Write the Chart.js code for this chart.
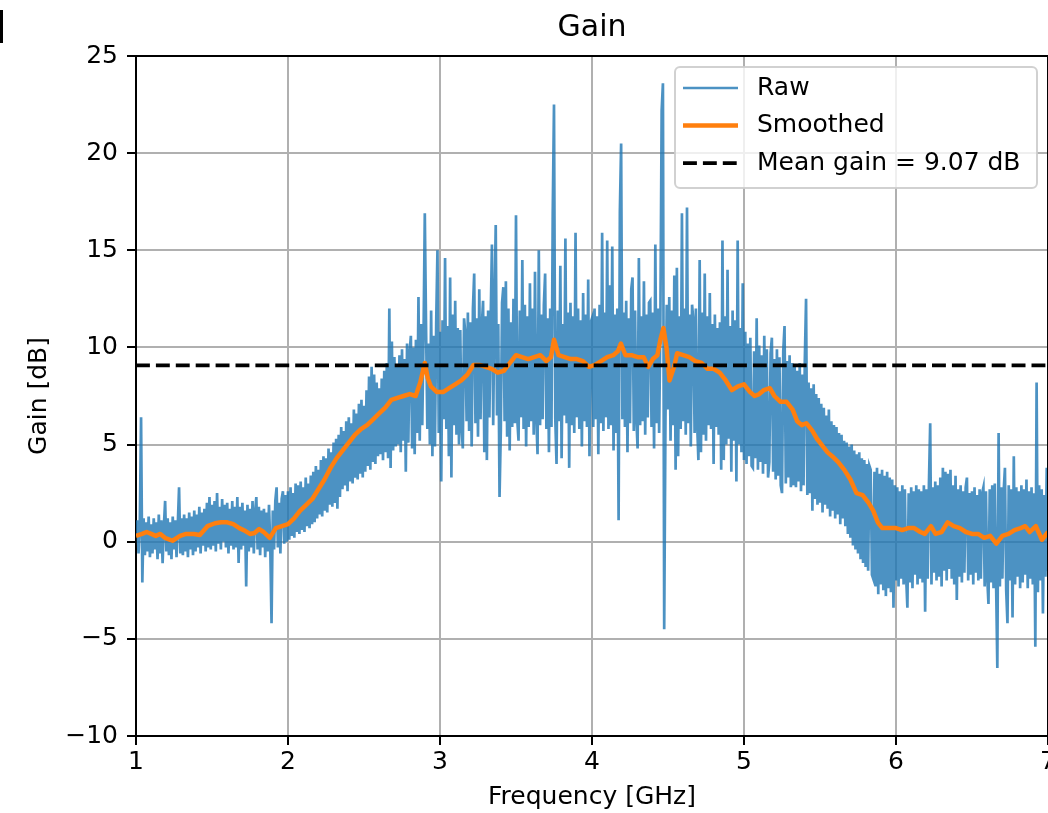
<!DOCTYPE html>
<html><head><meta charset="utf-8">
<script src="https://cdn.jsdelivr.net/npm/chart.js@4.4.1/dist/chart.umd.min.js"></script>
<style>
html,body{margin:0;padding:0;background:#fff;overflow:hidden;}
#wrap{position:relative;width:1048px;height:813px;overflow:hidden;background:#fff;}
#c{position:absolute;left:0;top:0;}
#mark{position:absolute;left:0;top:10px;width:3px;height:33px;background:#000;}
</style></head><body>
<div id="wrap"><canvas id="c" width="1060" height="813" style="width:1060px;height:813px"></canvas><div id="mark"></div></div>
<script>
// ---- data ----
const rawStartGHz = 1.0;
const rawStepGHz = 1 / 120;
const rawGain = [
 0.3, 1.1, -0.6, 0.9, 6.4, -2.1, 1.2, -0.7, 1.0, -0.5, 1.3, -0.8, 0.9, -0.6, 1.2, -0.4, 1.0, -0.9, 1.4, -0.6,
 1.1, -1.1, 0.8, 2.1, -0.5, 1.2, -0.7, 1.0, -0.9, 1.3, -0.4, 1.1, -0.8, 0.9, 2.8, -0.6, 1.2, -0.7, 1.4, -0.5,
 1.2, -0.8, 1.5, -0.4, 1.3, -0.7, 1.6, -0.5, 1.4, -0.3, 1.8, -0.6, 1.5, -0.2, 1.7, -0.5, 2.0, -0.3, 2.3, -0.4,
 1.9, -0.2, 2.1, -0.5, 2.5, -0.1, 1.8, -0.4, 2.2, 0.0, 1.9, -0.3, 2.0, -0.6, 1.7, -0.2, 2.1, -0.4, 1.8, -0.3,
 2.3, -1.1, 1.8, -0.4, 2.0, -0.2, 1.6, -2.3, 1.9, -0.5, 1.7, -0.3, 2.1, -0.6, 1.5, 2.3, -0.4, 1.8, -0.7, 1.6,
 -0.3, 1.7, -0.8, 1.5, -0.5, 1.9, -0.2, -4.2, 1.6, -0.4, 2.1, 2.8, -0.3, 2.0, -0.6, 2.2, 2.6, -0.1, 2.4, 0.0,
 2.6, 0.1, 2.8, 0.3, 2.5, 0.2, 3.0, 0.5, 2.9, 0.4, 3.1, 0.6, 2.8, 0.5, 3.3, 0.8, 3.0, 0.7, 3.4, 0.9,
 3.6, 1.0, 3.9, 1.2, 3.7, 1.4, 4.2, 1.3, 4.4, 1.6, 4.3, 1.5, 4.8, 1.9, 4.6, 1.8, 5.1, 2.0, 5.3, 1.7,
 5.5, 2.3, 5.9, 2.7, 5.7, 2.9, 6.2, 2.6, 6.4, 3.1, 6.1, 3.0, 6.8, 3.3, 6.6, 3.2, 7.1, 3.5, 7.3, 3.3,
 7.0, 3.6, 7.8, 3.9, 8.5, 3.7, 9.0, 4.1, 8.6, 4.0, 8.2, 4.4, 7.9, 4.5, 8.4, 4.2, 8.8, 4.6, 9.2, 4.3,
 12.0, 3.8, 10.3, 4.7, 9.5, 4.9, 9.1, 5.0, 9.6, 4.6, 9.9, 5.2, 9.4, 3.6, 10.2, 5.1, 9.7, 10.6, 4.8, 10.0,
 4.5, 10.4, 5.6, 12.6, 5.2, 11.2, 6.0, 10.5, 16.9, 11.0, 5.8, 10.2, 5.0, 11.9, 4.4, 10.6, 4.9, 11.3, 15.0, 5.6,
 10.8, 3.1, 11.4, 6.3, 14.6, 5.8, 11.1, 4.4, 13.6, 3.3, 11.7, 6.0, 12.4, 5.5, 11.0, 5.0, 10.9, 5.9, 4.8, 11.5,
 10.7, 6.2, 11.8, 5.7, 11.3, 4.9, 12.0, 13.8, 6.1, 11.5, 5.4, 13.0, 6.3, 11.1, 12.4, 4.6, 11.6, 4.2, 11.9, 6.4,
 11.4, 15.3, 6.0, 12.1, 16.3, 6.5, 11.2, 2.3, 5.7, 12.3, 13.1, 6.2, 13.4, 5.4, 12.0, 4.7, 11.3, 5.9, 12.5, 6.1,
 16.8, 6.3, 5.2, 11.9, 6.4, 14.5, 5.8, 12.2, 4.9, 11.6, 5.9, 13.3, 6.2, 12.0, 5.5, 13.9, 6.5, 4.5, 15.0, 6.0,
 11.7, 6.3, 12.2, 13.8, 5.8, 11.5, 4.6, 12.0, 5.9, 16.9, 22.5, 6.4, 4.0, 11.9, 6.2, 14.2, 4.3, 11.2, 6.5, 15.6,
 6.1, 11.8, 3.8, 12.3, 6.0, 11.6, 5.6, 15.9, 6.4, 12.0, 5.8, 11.4, 4.9, 12.8, 6.2, 11.7, 5.9, 13.5, 4.4, 11.3,
 11.5, 5.9, 12.0, 6.3, 11.6, 4.5, 12.2, 6.1, 15.9, 5.7, 11.8, 6.4, 15.5, 5.8, 13.2, 6.0, 15.2, 4.7, 11.7, 5.6,
 12.0, 1.1, 17.0, 20.5, 6.3, 11.8, 5.9, 12.4, 4.6, 11.5, 6.1, 13.0, 13.6, 5.7, 11.9, 6.4, 4.8, 14.6, 6.0, 11.6,
 6.2, 13.4, 5.5, 11.7, 6.4, 12.3, 12.4, 5.9, 11.8, 4.8, 15.3, 6.1, 12.0, 5.6, 11.5, 22.2, 23.6, -4.5, 6.3, 12.2,
 6.8, 12.6, 5.2, 11.9, 6.0, 13.7, 3.7, 14.1, 4.4, 11.6, 5.8, 16.9, 6.2, 12.0, 5.5, 17.2, 6.1, 11.7, 4.9, 12.2,
 11.4, 5.6, 12.0, 6.1, 4.2, 14.5, 4.6, 11.8, 5.5, 13.8, 5.2, 11.6, 6.0, 12.8, 5.8, 11.2, 4.0, 11.7, 5.9, 11.0,
 5.5, 11.3, 3.7, 15.5, 4.2, 11.6, 5.0, 14.0, 5.3, 11.1, 3.6, 11.9, 5.2, 11.4, 3.1, 15.5, 5.0, 11.0, 4.6, 13.3,
 4.2, 10.8, 4.0, 10.2, 4.4, 10.5, 3.9, 3.8, 9.8, 4.3, 11.5, 3.7, 10.1, 4.1, 9.6, 3.5, 10.6, 4.0, 9.9, 3.3,
 4.1, 9.7, 10.5, 3.6, 9.4, 3.2, 9.9, 3.4, 9.5, 2.9, 2.5, 9.8, 11.1, 3.0, 9.3, 3.3, 9.6, 2.8, 9.2, 2.9,
 9.0, 2.8, 8.8, 3.1, 9.2, 2.6, 8.6, 2.9, 9.3, 12.5, 2.4, 8.2, 2.5, 7.9, 1.6, 8.1, 2.2, 7.6, 1.9, 7.4,
 2.0, 7.1, 1.5, 6.9, 1.9, 6.5, 1.7, 6.8, 1.3, 6.2, 1.6, 6.0, 1.2, 5.9, 1.4, 5.6, 0.9, 5.5, 1.2, 5.2,
 0.8, 5.1, 0.4, 4.9, 0.2, 5.0, -0.2, 4.7, -0.4, 4.5, -0.6, 4.6, -0.9, 4.3, -1.1, 4.2, -1.3, 4.0, -1.5, 3.9,
 3.7, -1.7, -1.9, 3.6, -2.3, 3.8, -2.7, 3.5, -2.2, 3.7, -2.5, 3.4, -2.8, 3.6, -2.4, 3.3, -2.6, 3.2, -3.4, 2.9,
 -2.0, 2.8, -2.3, 2.6, -1.9, 2.9, -2.2, 2.7, -1.8, -3.4, 2.5, -2.1, 2.8, -2.4, 2.6, -1.7, 2.9, -2.2, 2.7, -1.9,
 2.6, -2.1, 2.9, -3.6, 2.7, -1.9, 3.0, 6.1, -2.2, 2.8, -1.6, 3.1, -2.0, 2.9, -1.8, 3.3, -2.3, 3.8, -1.5, 3.6,
 -2.0, 3.5, -1.4, 3.7, -1.9, 2.9, -2.2, 3.4, -3.0, 2.7, -1.8, 2.9, -2.1, 2.6, -1.6, 2.8, 3.3, -2.0, 2.5, -1.7,
 2.6, -2.2, 2.8, -1.6, 2.4, -2.0, 2.7, -1.9, 2.5, 2.8, -2.3, 2.6, -1.8, -3.2, 2.7, -2.1, 2.9, -2.4, 3.0, -2.0,
 -6.5, 5.6, -2.3, 2.8, -1.9, 2.6, 3.8, -2.5, -4.2, 2.9, -2.0, 2.7, -3.9, 4.4, -2.2, 2.8, -1.8, 2.6, -2.4, 2.9,
 -2.1, 2.7, -1.7, 3.2, -2.4, 2.6, -1.9, 2.8, -2.2, 2.5, -5.4, 8.2, -2.6, 2.9, -2.0, 2.7, -3.7, 2.4, -1.8, 3.8,
 -1.5
];
const smoothFreq = [
 1.00, 1.04, 1.07, 1.10, 1.13, 1.16, 1.19, 1.24, 1.29, 1.33, 1.38, 1.42, 1.47, 1.52, 1.56, 1.60,
 1.64, 1.68, 1.72, 1.75, 1.78, 1.81, 1.84, 1.88, 1.92, 1.96, 2.00, 2.04, 2.08, 2.12, 2.16, 2.20,
 2.24, 2.28, 2.32, 2.36, 2.40, 2.44, 2.48, 2.52, 2.56, 2.60, 2.64, 2.68, 2.72, 2.76, 2.80, 2.84,
 2.87, 2.90, 2.92, 2.94, 2.98, 3.02, 3.06, 3.10, 3.14, 3.18, 3.22, 3.26, 3.30, 3.34, 3.38, 3.42,
 3.46, 3.50, 3.54, 3.58, 3.62, 3.66, 3.70, 3.73, 3.75, 3.78, 3.82, 3.86, 3.90, 3.94, 3.98, 4.02,
 4.06, 4.10, 4.14, 4.17, 4.19, 4.22, 4.26, 4.30, 4.34, 4.37, 4.40, 4.43, 4.45, 4.47, 4.49, 4.51,
 4.54, 4.56, 4.60, 4.64, 4.68, 4.72, 4.76, 4.80, 4.84, 4.88, 4.92, 4.96, 5.00, 5.04, 5.07, 5.10,
 5.13, 5.17, 5.20, 5.24, 5.28, 5.32, 5.35, 5.38, 5.41, 5.45, 5.48, 5.52, 5.55, 5.58, 5.62, 5.66,
 5.70, 5.74, 5.78, 5.82, 5.85, 5.88, 5.91, 5.96, 6.00, 6.04, 6.08, 6.12, 6.16, 6.19, 6.23, 6.26,
 6.30, 6.34, 6.38, 6.42, 6.46, 6.50, 6.54, 6.58, 6.62, 6.66, 6.70, 6.74, 6.78, 6.82, 6.85, 6.88,
 6.92, 6.96, 7.00
];
const smoothGain = [
 0.3, 0.4, 0.5, 0.4, 0.3, 0.4, 0.2, 0.05, 0.3, 0.4, 0.4, 0.35, 0.8, 0.95, 1.0, 1.0,
 0.9, 0.7, 0.55, 0.4, 0.45, 0.65, 0.5, 0.2, 0.7, 0.8, 0.9, 1.2, 1.6, 1.9, 2.2, 2.7,
 3.2, 3.8, 4.3, 4.7, 5.1, 5.5, 5.8, 6.0, 6.3, 6.6, 6.9, 7.3, 7.4, 7.5, 7.6, 7.5,
 8.2, 9.2, 8.4, 8.0, 7.7, 7.7, 7.9, 8.1, 8.3, 8.6, 9.1, 9.1, 9.0, 8.9, 8.7, 8.8,
 9.2, 9.6, 9.5, 9.4, 9.5, 9.6, 9.3, 9.5, 10.4, 9.6, 9.5, 9.4, 9.4, 9.3, 9.0, 9.1,
 9.3, 9.5, 9.6, 9.8, 10.2, 9.6, 9.6, 9.5, 9.5, 9.0, 9.4, 9.6, 10.4, 11.0, 10.0, 8.3,
 9.0, 9.7, 9.6, 9.5, 9.3, 9.2, 8.9, 8.9, 8.7, 8.3, 7.8, 8.0, 8.1, 7.7, 7.5, 7.6,
 7.8, 7.9, 7.5, 7.2, 7.2, 6.8, 6.2, 6.0, 6.1, 5.7, 5.3, 4.9, 4.6, 4.4, 4.1, 3.7,
 3.2, 2.5, 2.4, 2.0, 1.6, 1.0, 0.7, 0.7, 0.7, 0.6, 0.7, 0.7, 0.5, 0.4, 0.8, 0.4,
 0.5, 1.0, 0.8, 0.7, 0.5, 0.4, 0.4, 0.2, 0.3, -0.1, 0.3, 0.4, 0.6, 0.7, 0.8, 0.5,
 0.8, 0.1, 0.5
];
const meanGain = 9.07;
const xTicks = [1, 2, 3, 4, 5, 6, 7];
const yTicks = [-10, -5, 0, 5, 10, 15, 20, 25];
const seriesLabels = ['Raw', 'Smoothed', 'Mean gain = 9.07 dB'];

// ---- chart ----
const FONT = 'DejaVu Sans';
const rawColor = 'rgba(31,119,180,0.8)';
const smoothColor = '#ff7f0e';
const meanDash = [13.9, 6];

const legendBox = {
  id: 'legendBox',
  afterDraw(chart) {
    const ctx = chart.ctx, a = chart.chartArea;
    const w = 362, h = 121;
    const x = a.right - 11 - w, y = a.top + 11;
    ctx.save();
    ctx.beginPath();
    ctx.roundRect(x, y, w, h, 5);
    ctx.fillStyle = 'rgba(255,255,255,0.8)';
    ctx.fill();
    ctx.lineWidth = 2;
    ctx.strokeStyle = 'rgba(204,204,204,0.9)';
    ctx.stroke();
    const rows = [y + 21, y + 58.5, y + 96];
    const styles = [
      {c: rawColor, w: 2.7, d: []},
      {c: smoothColor, w: 4.5, d: []},
      {c: '#000', w: 3.75, d: meanDash}
    ];
    ctx.font = '25px "' + FONT + '"';
    ctx.textBaseline = 'middle';
    ctx.textAlign = 'left';
    for (let i = 0; i < 3; i++) {
      ctx.beginPath();
      ctx.setLineDash(styles[i].d);
      ctx.lineWidth = styles[i].w;
      ctx.strokeStyle = styles[i].c;
      ctx.moveTo(x + 8, rows[i]);
      ctx.lineTo(x + 63, rows[i]);
      ctx.stroke();
      ctx.setLineDash([]);
      ctx.fillStyle = '#000';
      ctx.fillText(seriesLabels[i], x + 82, rows[i]);
    }
    ctx.restore();
  }
};

const topSpine = {
  id: 'topSpine',
  afterDatasetsDraw(chart) {
    const ctx = chart.ctx, a = chart.chartArea;
    ctx.save();
    ctx.strokeStyle = '#000';
    ctx.lineWidth = 2;
    ctx.beginPath();
    ctx.moveTo(a.left - 1, a.top);
    ctx.lineTo(a.right + 1, a.top);
    ctx.moveTo(a.right, a.top);
    ctx.lineTo(a.right, a.bottom);
    ctx.stroke();
    ctx.restore();
  }
};

new Chart(document.getElementById('c'), {
  type: 'line',
  data: {
    datasets: [
      {
        label: seriesLabels[0],
        data: rawGain.map((v, i) => ({x: rawStartGHz + i * rawStepGHz, y: v})),
        borderColor: rawColor, borderWidth: 2.7, pointRadius: 0, tension: 0, order: 3
      },
      {
        label: seriesLabels[1],
        data: smoothFreq.map((f, i) => ({x: f, y: smoothGain[i]})),
        borderColor: smoothColor, borderWidth: 4.5, pointRadius: 0, tension: 0, order: 2,
        borderJoinStyle: 'round'
      },
      {
        label: seriesLabels[2],
        data: [{x: xTicks[0], y: meanGain}, {x: xTicks[xTicks.length - 1], y: meanGain}],
        borderColor: '#000', borderWidth: 3.75, borderDash: meanDash, pointRadius: 0, order: 1
      }
    ]
  },
  options: {
    responsive: false, animation: false, devicePixelRatio: 1,
    layout: {padding: {left: 0, right: 12, top: 0, bottom: 0}},
    plugins: {
      legend: {display: false},
      tooltip: {enabled: false},
      title: {
        display: true, text: 'Gain', fullSize: false, color: '#000',
        font: {family: FONT, size: 30, weight: 'normal'},
        padding: {top: 10, bottom: 10}
      }
    },
    scales: {
      x: {
        type: 'linear', min: 1, max: 7,
        afterBuildTicks: s => { s.ticks = xTicks.map(v => ({value: v})); },
        afterFit: s => { s.height = 77; },
        ticks: {color: '#000', font: {family: FONT, size: 25}, padding: 2, maxRotation: 0,
                callback: v => String(v)},
        grid: {color: '#b0b0b0', lineWidth: 2, tickColor: '#000', tickWidth: 2, tickLength: 9},
        border: {display: true, color: '#000', width: 2},
        title: {display: true, text: 'Frequency [GHz]', color: '#000',
                font: {family: FONT, size: 25}, padding: {top: 0, bottom: 1}}
      },
      y: {
        type: 'linear', min: -10, max: 25,
        afterBuildTicks: s => { s.ticks = yTicks.map(v => ({value: v})); },
        afterFit: s => { s.width = 136; },
        ticks: {color: '#000', font: {family: FONT, size: 25}, padding: 9,
                callback: v => (v < 0 ? '\u2212' + Math.abs(v) : String(v))},
        grid: {color: '#b0b0b0', lineWidth: 2, tickColor: '#000', tickWidth: 2, tickLength: 9},
        border: {display: true, color: '#000', width: 2},
        title: {display: true, text: 'Gain [dB]', color: '#000',
                font: {family: FONT, size: 25}, padding: {top: 24, bottom: 0}}
      }
    }
  },
  plugins: [topSpine, legendBox]
});
</script>
</body></html>
